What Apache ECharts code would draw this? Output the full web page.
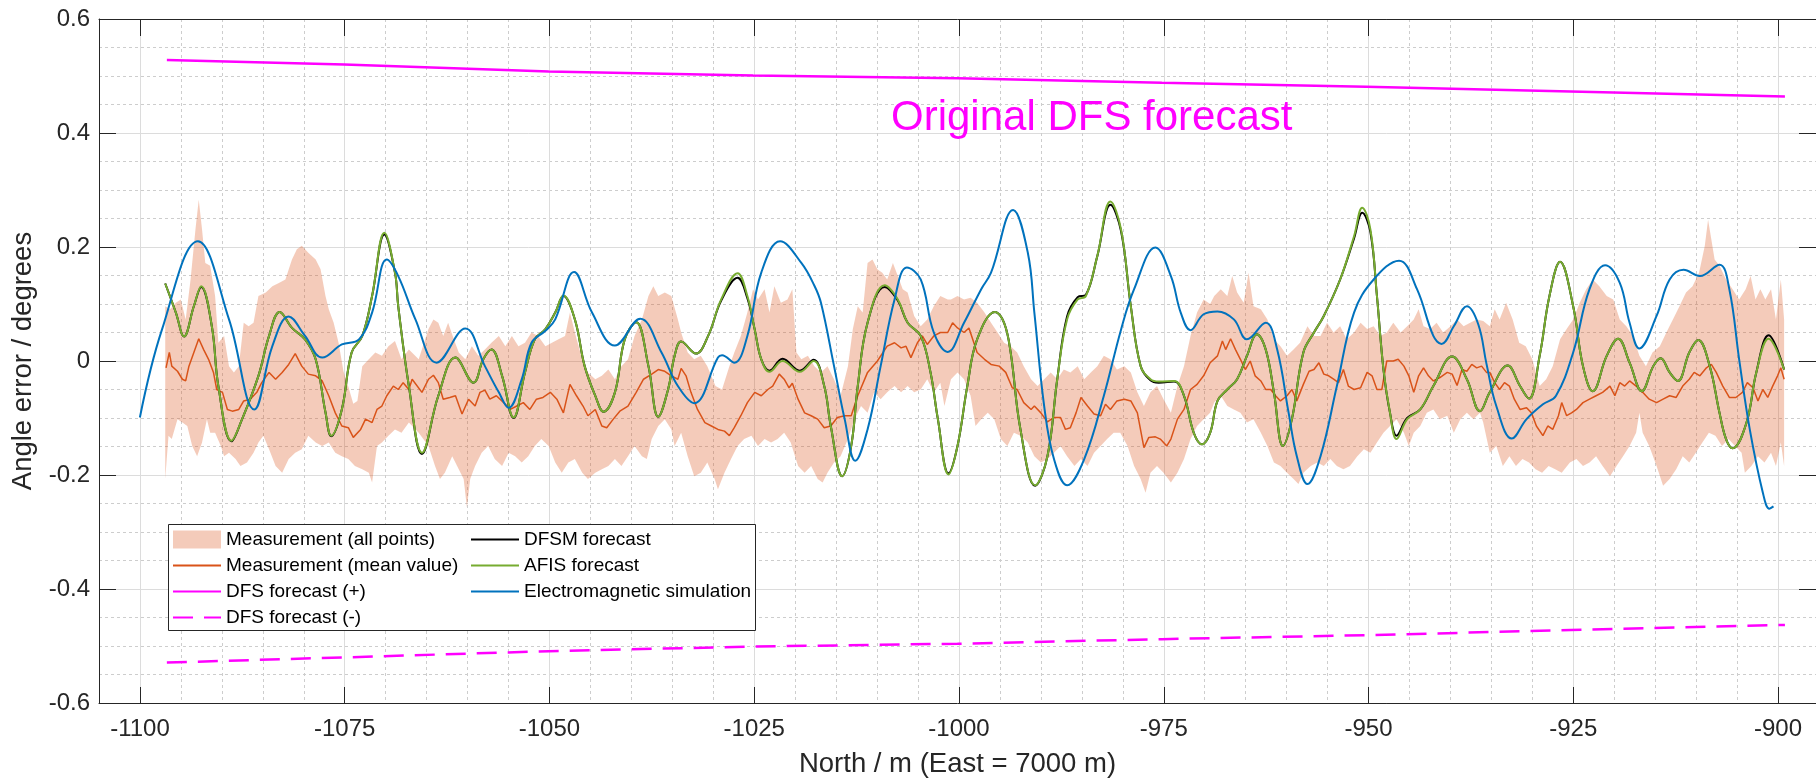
<!DOCTYPE html>
<html><head><meta charset="utf-8">
<script src="https://cdn.jsdelivr.net/npm/echarts@6/dist/echarts.min.js"></script>
<style>html,body{margin:0;padding:0;background:#fff}#c{width:1816px;height:783px}</style>
</head><body><div id="c"></div>
<script>
// ---------- tick labels ----------
const xTicks = [-1100,-1075,-1050,-1025,-1000,-975,-950,-925,-900];
const xTickLabels = ['-1100','-1075','-1050','-1025','-1000','-975','-950','-925','-900'];
const yTicks = [-0.6,-0.4,-0.2,0,0.2,0.4,0.6];
const yTickLabels = ['-0.6','-0.4','-0.2','0','0.2','0.4','0.6'];

// ---------- DFS forecast (+ / -) ----------
const dfsX = [-1096.7,-1075,-1050,-1025,-1000,-975,-950,-925,-898.8];
const dfsPlus = [0.528,0.520,0.508,0.501,0.496,0.488,0.481,0.473,0.464];
const dfsMinus = [-0.529,-0.520,-0.509,-0.501,-0.496,-0.488,-0.481,-0.472,-0.463];

// ---------- Electromagnetic simulation ----------
const emX = [-1100,-1097.3,-1092.9,-1089.1,-1086.0,-1083.8,-1081.8,-1079.8,-1077.7,-1075.3,-1073.2,-1071.6,-1069.8,-1068.4,-1066.3,-1063.7,-1060.2,-1057.8,-1056.1,-1054.9,-1053.3,-1052.1,-1050.4,-1049.2,-1046.9,-1044.7,-1041.9,-1038.8,-1036.2,-1034.2,-1032.2,-1029.3,-1028.8,-1027.3,-1025.7,-1024.0,-1021.7,-1019.1,-1017.5,-1016.7,-1015.1,-1013.8,-1012.5,-1011.0,-1009.4,-1007.7,-1006.2,-1004.5,-1002.9,-1001.2,-999.2,-997.1,-995.9,-993.2,-991.4,-990.6,-989.4,-988.2,-986.6,-984.5,-982.1,-980.0,-978.4,-975.8,-973.9,-972.7,-971.5,-969.9,-968.2,-966.2,-964.6,-962.3,-960.9,-959.5,-958.5,-957.2,-955.6,-953.6,-951.5,-949.1,-946.0,-943.8,-941.8,-940.8,-939.3,-937.7,-936.3,-935.3,-934.1,-932.2,-930.4,-928.4,-926.8,-924.7,-922.7,-920.8,-919.0,-917.8,-916.6,-914.5,-912.9,-911.2,-909.2,-906.8,-905.6,-904.4,-903.1,-901.5,-900.7,-900.2];
const emY = [-0.099,0.055,0.210,0.073,-0.085,0.026,0.078,0.044,0.006,0.029,0.038,0.085,0.178,0.149,0.073,-0.003,0.057,-0.009,-0.055,-0.082,-0.032,0.032,0.053,0.073,0.156,0.085,0.027,0.074,0.015,-0.044,-0.074,0.006,0.010,-0.003,0.044,0.155,0.210,0.172,0.132,0.102,-0.009,-0.102,-0.175,-0.120,-0.009,0.108,0.164,0.143,0.050,0.016,0.067,0.126,0.155,0.265,0.190,0.085,-0.079,-0.172,-0.218,-0.172,-0.061,0.055,0.126,0.199,0.149,0.085,0.054,0.082,0.087,0.073,0.038,0.067,0.020,-0.091,-0.167,-0.216,-0.167,-0.044,0.085,0.143,0.176,0.126,0.044,0.030,0.061,0.096,0.064,-0.005,-0.079,-0.136,-0.102,-0.076,-0.061,0.015,0.126,0.168,0.137,0.067,0.022,0.079,0.143,0.160,0.149,0.169,0.126,0.003,-0.120,-0.231,-0.259,-0.255];

// ---------- AFIS forecast ----------
const afisX = [-1096.9,-1095.6,-1094.6,-1093.4,-1092.5,-1091.2,-1090.4,-1088.8,-1087.5,-1085.5,-1084.2,-1082.9,-1081.4,-1079.8,-1078.5,-1077.3,-1076.6,-1075.3,-1074.1,-1072.8,-1071.6,-1070.1,-1068.8,-1068.4,-1067.1,-1065.5,-1063.5,-1061.4,-1059.2,-1058.0,-1057.0,-1055.7,-1054.3,-1052.9,-1051.7,-1050.4,-1049.2,-1048.2,-1046.8,-1045.6,-1044.3,-1043.3,-1041.9,-1040.7,-1039.3,-1037.8,-1036.6,-1035.4,-1034.6,-1033.8,-1032.0,-1030.5,-1028.9,-1026.9,-1025.7,-1024.8,-1024.0,-1023.0,-1021.4,-1019.3,-1017.6,-1016.3,-1015.5,-1014.1,-1013.0,-1012.2,-1011.0,-1008.9,-1007.3,-1006.1,-1004.5,-1003.3,-1002.4,-1001.1,-1000.0,-998.8,-997.6,-995.4,-994.3,-993.5,-992.3,-990.5,-989.0,-987.8,-986.6,-985.3,-984.3,-982.9,-981.3,-980.0,-978.8,-977.6,-976.4,-975.4,-973.5,-972.3,-971.1,-970.1,-969.1,-968.2,-967.0,-965.8,-964.6,-963.4,-962.3,-961.3,-960.2,-959.1,-957.7,-956.4,-955.2,-953.2,-951.5,-950.5,-949.5,-948.7,-947.9,-947.1,-946.3,-945.0,-943.4,-941.8,-939.5,-937.7,-936.1,-934.9,-932.7,-931.2,-930.1,-928.8,-927.6,-926.3,-924.7,-923.5,-922.3,-920.6,-919.2,-917.8,-916.3,-914.9,-914.0,-912.9,-911.9,-910.5,-909.4,-908.0,-906.8,-906.0,-905.2,-903.5,-902.3,-900.8,-898.9];
const afisY = [0.136,0.085,0.043,0.096,0.131,0.061,-0.044,-0.140,-0.102,-0.026,0.044,0.086,0.058,0.038,0.003,-0.090,-0.131,-0.085,0.015,0.044,0.114,0.225,0.155,0.096,-0.044,-0.161,-0.061,0.006,-0.038,0.003,0.020,-0.026,-0.099,-0.020,0.038,0.056,0.085,0.115,0.073,-0.009,-0.061,-0.089,-0.055,0.038,0.068,-0.009,-0.098,-0.050,0.009,0.034,0.013,0.044,0.108,0.154,0.114,0.055,0.003,-0.019,0.000,-0.019,0.000,-0.044,-0.114,-0.202,-0.149,-0.044,0.067,0.133,0.108,0.067,0.044,-0.020,-0.102,-0.199,-0.149,-0.044,0.038,0.086,0.067,0.015,-0.120,-0.218,-0.167,-0.032,0.073,0.108,0.114,0.184,0.280,0.231,0.096,-0.009,-0.032,-0.036,-0.035,-0.061,-0.126,-0.146,-0.126,-0.070,-0.050,-0.032,0.009,0.047,0.020,-0.055,-0.149,-0.102,0.015,0.050,0.079,0.143,0.219,0.269,0.231,0.114,-0.015,-0.091,-0.137,-0.102,-0.085,-0.044,0.008,-0.032,-0.088,-0.055,-0.008,-0.044,-0.066,0.009,0.114,0.174,0.096,-0.009,-0.053,0.009,0.039,-0.003,-0.053,-0.009,0.005,-0.020,-0.035,0.015,0.037,-0.009,-0.091,-0.137,-0.153,-0.108,-0.020,0.039,-0.015];

// ---------- DFSM forecast ----------
const dfsmX = [-1096.9,-1095.6,-1094.6,-1093.4,-1092.5,-1091.2,-1090.4,-1088.8,-1087.5,-1085.5,-1084.2,-1082.9,-1081.4,-1079.8,-1078.5,-1077.3,-1076.6,-1075.3,-1074.1,-1072.8,-1071.6,-1070.1,-1068.8,-1068.4,-1067.1,-1065.5,-1063.5,-1061.4,-1059.2,-1058.0,-1057.0,-1055.7,-1054.3,-1052.9,-1051.7,-1050.4,-1049.2,-1048.2,-1046.8,-1045.6,-1044.3,-1043.3,-1041.9,-1040.7,-1039.3,-1037.8,-1036.6,-1035.4,-1034.6,-1033.8,-1032.0,-1030.5,-1028.9,-1026.9,-1025.7,-1024.8,-1024.0,-1023.0,-1021.4,-1019.3,-1017.6,-1016.3,-1015.5,-1014.1,-1013.0,-1012.2,-1011.0,-1008.9,-1007.3,-1006.1,-1004.5,-1003.3,-1002.4,-1001.1,-1000.0,-998.8,-997.6,-995.4,-994.3,-993.5,-992.3,-990.5,-989.0,-987.8,-986.6,-985.3,-984.3,-982.9,-981.3,-980.0,-978.8,-977.6,-976.4,-975.4,-973.5,-972.3,-971.1,-970.1,-969.1,-968.2,-967.0,-965.8,-964.6,-963.4,-962.3,-961.3,-960.2,-959.1,-957.7,-956.4,-955.2,-953.2,-951.5,-950.5,-949.5,-948.7,-947.9,-947.1,-946.3,-945.0,-943.4,-941.8,-939.5,-937.7,-936.1,-934.9,-932.7,-931.2,-930.1,-928.8,-927.6,-926.3,-924.7,-923.5,-922.3,-920.6,-919.2,-917.8,-916.3,-914.9,-914.0,-912.9,-911.9,-910.5,-909.4,-908.0,-906.8,-906.0,-905.2,-903.5,-902.3,-900.8,-898.9];
const dfsmY = [0.136,0.085,0.043,0.096,0.130,0.061,-0.044,-0.141,-0.102,-0.026,0.044,0.086,0.058,0.038,0.003,-0.090,-0.132,-0.085,0.015,0.044,0.114,0.222,0.155,0.096,-0.044,-0.163,-0.061,0.006,-0.038,0.003,0.020,-0.026,-0.100,-0.020,0.038,0.056,0.085,0.114,0.073,-0.009,-0.061,-0.089,-0.055,0.038,0.068,-0.009,-0.098,-0.050,0.009,0.034,0.013,0.044,0.106,0.146,0.110,0.055,0.003,-0.017,0.004,-0.017,0.002,-0.044,-0.114,-0.202,-0.149,-0.044,0.067,0.130,0.106,0.067,0.044,-0.020,-0.102,-0.197,-0.149,-0.044,0.038,0.086,0.067,0.015,-0.120,-0.219,-0.167,-0.032,0.078,0.112,0.116,0.184,0.274,0.228,0.096,-0.009,-0.034,-0.038,-0.036,-0.061,-0.126,-0.146,-0.126,-0.070,-0.050,-0.032,0.009,0.047,0.020,-0.055,-0.149,-0.102,0.015,0.050,0.079,0.143,0.215,0.260,0.226,0.114,-0.015,-0.091,-0.131,-0.100,-0.085,-0.044,0.008,-0.032,-0.088,-0.055,-0.008,-0.044,-0.066,0.009,0.114,0.174,0.096,-0.009,-0.053,0.009,0.039,-0.003,-0.053,-0.009,0.005,-0.020,-0.035,0.015,0.037,-0.009,-0.091,-0.137,-0.153,-0.108,-0.020,0.045,-0.015];

// ---------- Measurement (mean value) ----------
const meanX = [-1096.8,-1096.4,-1096.1,-1095.4,-1094.8,-1094.4,-1094.0,-1093.4,-1092.8,-1092.2,-1091.6,-1091.0,-1090.6,-1089.9,-1089.3,-1088.7,-1087.9,-1087.3,-1086.5,-1085.7,-1085.1,-1084.2,-1083.4,-1082.6,-1081.8,-1081.0,-1080.2,-1079.4,-1078.5,-1077.7,-1076.9,-1076.1,-1075.3,-1074.5,-1073.9,-1073.0,-1072.4,-1071.6,-1071.0,-1070.4,-1069.8,-1069.0,-1068.4,-1067.8,-1067.1,-1066.7,-1065.5,-1064.7,-1064.1,-1063.5,-1062.9,-1062.1,-1061.4,-1060.6,-1059.8,-1059.0,-1058.4,-1057.8,-1057.2,-1056.4,-1055.5,-1054.7,-1053.9,-1053.1,-1052.3,-1051.5,-1050.7,-1049.8,-1049.0,-1048.2,-1047.4,-1046.6,-1045.8,-1045.2,-1044.3,-1043.5,-1042.9,-1042.1,-1041.3,-1040.3,-1039.3,-1038.4,-1037.4,-1036.6,-1035.8,-1035.0,-1034.2,-1033.8,-1033.2,-1032.6,-1031.8,-1030.9,-1030.1,-1029.3,-1028.5,-1027.9,-1027.3,-1026.5,-1025.7,-1024.8,-1024.0,-1023.2,-1022.6,-1021.8,-1021.2,-1020.6,-1020.2,-1019.5,-1018.7,-1017.9,-1017.1,-1016.3,-1015.5,-1014.7,-1013.8,-1013.0,-1012.2,-1011.0,-1009.8,-1008.6,-1007.7,-1006.9,-1006.3,-1005.7,-1004.9,-1004.3,-1003.7,-1002.9,-1002.1,-1001.2,-1000.6,-1000.0,-999.2,-998.6,-998.0,-997.6,-996.7,-995.9,-994.9,-994.1,-993.3,-992.7,-991.9,-991.0,-990.6,-989.8,-989.0,-988.2,-987.4,-986.8,-986.2,-985.5,-984.9,-984.1,-983.3,-982.5,-981.9,-981.3,-980.5,-979.6,-978.8,-978.0,-977.2,-976.6,-975.8,-975.2,-974.4,-973.9,-973.1,-972.3,-971.5,-970.7,-969.9,-969.1,-968.2,-967.6,-967.2,-966.6,-966.0,-965.4,-964.8,-964.2,-963.6,-962.9,-962.3,-961.7,-961.1,-960.5,-959.7,-959.1,-958.5,-957.7,-957.0,-956.4,-955.8,-955.2,-954.6,-954.0,-953.4,-952.8,-952.2,-951.5,-950.7,-949.9,-949.3,-948.7,-948.1,-947.5,-946.7,-946.1,-945.4,-944.8,-944.2,-943.6,-943.0,-942.4,-941.8,-941.0,-940.1,-939.5,-938.9,-938.3,-937.7,-937.1,-936.5,-935.9,-935.3,-934.9,-934.3,-933.7,-933.1,-932.5,-931.9,-931.2,-930.4,-929.8,-929.2,-928.4,-927.8,-927.2,-926.5,-926.1,-925.5,-924.9,-924.3,-923.5,-922.7,-921.9,-921.1,-920.2,-919.6,-919.0,-918.4,-917.8,-917.0,-916.2,-915.4,-914.5,-913.7,-912.9,-912.1,-911.3,-910.5,-909.9,-909.2,-908.4,-907.8,-907.2,-906.4,-905.6,-904.8,-904.0,-903.4,-902.7,-902.1,-901.5,-900.9,-900.3,-899.7,-899.3,-898.9];
const meanY = [-0.012,0.015,-0.009,-0.018,-0.032,-0.035,-0.009,0.015,0.039,0.020,0.003,-0.020,-0.050,-0.055,-0.085,-0.088,-0.085,-0.070,-0.067,-0.055,-0.038,-0.020,-0.032,-0.020,-0.006,0.013,-0.009,-0.023,-0.026,-0.035,-0.061,-0.091,-0.114,-0.117,-0.134,-0.120,-0.102,-0.108,-0.085,-0.079,-0.061,-0.044,-0.050,-0.038,-0.050,-0.032,-0.055,-0.032,-0.025,-0.038,-0.067,-0.064,-0.061,-0.093,-0.067,-0.079,-0.055,-0.051,-0.067,-0.061,-0.073,-0.085,-0.079,-0.073,-0.085,-0.067,-0.064,-0.055,-0.067,-0.091,-0.041,-0.061,-0.079,-0.096,-0.085,-0.114,-0.117,-0.102,-0.088,-0.079,-0.055,-0.032,-0.023,-0.015,-0.018,-0.026,-0.032,-0.013,-0.026,-0.055,-0.085,-0.108,-0.114,-0.120,-0.123,-0.131,-0.117,-0.096,-0.073,-0.055,-0.061,-0.050,-0.044,-0.023,-0.032,-0.047,-0.039,-0.067,-0.091,-0.096,-0.102,-0.117,-0.114,-0.099,-0.096,-0.096,-0.061,-0.020,0.000,0.026,0.032,0.023,0.026,0.006,0.032,0.044,0.029,0.044,0.050,0.050,0.067,0.058,0.050,0.058,0.032,0.015,0.003,-0.006,-0.009,-0.020,-0.047,-0.050,-0.073,-0.085,-0.079,-0.091,-0.107,-0.099,-0.099,-0.120,-0.117,-0.091,-0.064,-0.079,-0.093,-0.096,-0.076,-0.085,-0.070,-0.067,-0.070,-0.091,-0.152,-0.134,-0.133,-0.137,-0.149,-0.137,-0.102,-0.085,-0.050,-0.041,-0.026,-0.003,0.009,0.035,0.020,0.039,0.020,0.003,-0.015,0.000,-0.026,-0.035,-0.050,-0.050,-0.061,-0.070,-0.061,-0.050,-0.070,-0.041,-0.018,-0.015,-0.003,-0.023,-0.026,-0.032,-0.038,-0.015,-0.044,-0.050,-0.047,-0.020,-0.026,-0.050,-0.050,0.000,0.000,0.003,-0.009,-0.026,-0.055,-0.026,-0.012,-0.026,-0.035,-0.029,-0.020,-0.023,-0.043,-0.015,-0.018,-0.006,-0.012,-0.009,-0.020,-0.020,-0.038,-0.050,-0.038,-0.044,-0.067,-0.085,-0.082,-0.091,-0.114,-0.131,-0.114,-0.120,-0.096,-0.073,-0.096,-0.091,-0.085,-0.073,-0.067,-0.061,-0.055,-0.044,-0.061,-0.038,-0.044,-0.035,-0.044,-0.055,-0.067,-0.073,-0.067,-0.061,-0.064,-0.044,-0.032,-0.020,-0.026,-0.012,-0.006,-0.020,-0.044,-0.064,-0.064,-0.055,-0.038,-0.047,-0.070,-0.050,-0.064,-0.044,-0.026,-0.012,-0.032];

// ---------- Measurement (all points): upper / lower envelope ----------
const bandUpX = [-1096.9,-1096.3,-1095.6,-1095.0,-1094.4,-1093.8,-1093.2,-1092.8,-1092.4,-1092.0,-1091.4,-1090.8,-1090.4,-1089.7,-1089.1,-1088.5,-1087.9,-1087.3,-1086.7,-1086.1,-1085.5,-1084.6,-1083.8,-1083.0,-1082.2,-1081.4,-1080.8,-1080.2,-1079.4,-1078.5,-1077.9,-1077.3,-1076.9,-1076.3,-1075.7,-1075.1,-1074.5,-1073.9,-1073.4,-1072.8,-1072.0,-1071.2,-1070.4,-1069.6,-1068.8,-1068.0,-1067.1,-1065.9,-1064.7,-1064.1,-1063.5,-1062.9,-1062.3,-1061.6,-1061.0,-1060.2,-1059.4,-1058.6,-1057.8,-1057.0,-1056.1,-1055.3,-1054.5,-1053.7,-1052.9,-1052.1,-1051.3,-1050.4,-1049.6,-1048.8,-1048.0,-1047.4,-1046.8,-1045.9,-1045.2,-1044.3,-1043.5,-1042.7,-1041.9,-1041.1,-1040.3,-1039.5,-1038.6,-1037.8,-1037.2,-1036.6,-1035.8,-1035.0,-1034.2,-1033.8,-1033.0,-1032.2,-1031.4,-1030.6,-1029.6,-1028.8,-1027.9,-1027.3,-1026.5,-1025.7,-1025.0,-1024.4,-1023.6,-1023.0,-1022.4,-1021.6,-1020.8,-1020.2,-1019.7,-1019.1,-1018.3,-1017.5,-1016.7,-1015.9,-1015.1,-1014.3,-1013.4,-1012.8,-1012.2,-1011.6,-1011.0,-1010.4,-1009.8,-1009.2,-1008.6,-1007.9,-1007.3,-1006.7,-1006.1,-1005.3,-1004.5,-1003.7,-1002.9,-1002.1,-1001.2,-1000.8,-1000.0,-999.2,-998.4,-997.6,-996.7,-995.9,-995.1,-994.3,-993.5,-992.7,-991.9,-991.0,-990.2,-989.4,-988.6,-987.8,-987.0,-986.2,-985.3,-984.5,-983.7,-982.9,-982.1,-981.3,-980.5,-979.6,-978.8,-978.0,-977.2,-976.4,-975.6,-974.8,-973.9,-973.1,-972.3,-971.5,-970.7,-969.9,-969.1,-968.6,-967.8,-967.0,-966.4,-965.8,-965.0,-964.4,-963.8,-962.9,-962.1,-961.3,-960.5,-959.7,-958.9,-958.1,-957.2,-956.4,-955.6,-954.8,-954.0,-953.2,-952.4,-951.5,-950.7,-949.9,-949.1,-948.3,-947.5,-946.7,-945.8,-945.0,-944.2,-943.6,-943.0,-942.2,-941.4,-940.6,-939.7,-938.9,-938.1,-937.3,-936.5,-935.7,-934.9,-934.3,-933.7,-932.9,-932.1,-931.3,-930.5,-929.7,-928.8,-928.0,-927.2,-926.3,-925.5,-924.7,-923.9,-923.1,-922.3,-921.5,-920.6,-919.8,-919.0,-918.2,-917.4,-916.6,-915.8,-915.0,-914.1,-913.3,-912.5,-911.7,-910.9,-910.1,-909.3,-908.6,-908.2,-907.8,-907.4,-906.8,-906.0,-905.2,-904.4,-903.6,-903.0,-902.4,-901.8,-901.2,-900.5,-899.9,-899.3,-898.9];
const bandUpY = [0.096,0.091,0.102,0.108,0.073,0.143,0.231,0.283,0.231,0.172,0.167,0.114,0.032,0.044,-0.009,-0.020,-0.009,0.067,0.061,0.067,0.114,0.120,0.131,0.137,0.143,0.178,0.196,0.202,0.190,0.178,0.161,0.114,0.091,0.067,0.032,-0.018,-0.045,-0.075,-0.070,-0.009,0.003,0.015,0.009,0.026,0.035,0.003,0.020,0.003,0.056,0.073,0.067,0.044,0.067,0.038,0.015,0.003,0.026,0.009,0.020,0.032,0.044,0.026,0.044,0.026,0.032,0.050,0.044,0.026,0.032,0.038,0.044,0.085,0.050,0.003,-0.020,-0.032,-0.026,-0.015,-0.032,-0.009,0.003,0.044,0.073,0.114,0.131,0.114,0.120,0.114,0.073,0.050,0.015,0.003,0.009,-0.009,-0.044,-0.050,-0.009,0.015,0.044,0.085,0.126,0.108,0.126,0.085,0.131,0.102,0.108,0.126,0.015,0.003,0.009,-0.009,-0.020,-0.009,-0.032,-0.061,-0.009,0.056,0.096,0.085,0.172,0.178,0.161,0.155,0.143,0.172,0.149,0.126,0.120,0.079,0.061,0.073,0.096,0.114,0.108,0.108,0.114,0.108,0.111,0.102,0.085,0.067,0.050,0.032,0.026,0.015,-0.009,-0.032,-0.044,-0.032,-0.020,-0.032,-0.015,-0.020,-0.009,-0.032,-0.020,-0.009,0.009,0.003,-0.015,-0.009,-0.020,-0.055,-0.079,-0.055,-0.044,-0.067,-0.091,-0.044,-0.009,0.044,0.085,0.108,0.100,0.114,0.126,0.114,0.149,0.120,0.102,0.155,0.096,0.091,0.073,0.038,0.026,0.009,0.020,0.032,0.061,0.044,0.044,0.067,0.050,0.061,0.038,0.050,0.067,0.056,0.061,0.044,0.050,0.067,0.050,0.061,0.073,0.091,0.061,0.056,0.067,0.050,0.061,0.073,0.061,0.067,0.073,0.070,0.061,0.091,0.073,0.102,0.073,0.032,0.026,0.003,-0.044,-0.032,-0.009,0.038,0.056,0.073,0.102,0.126,0.143,0.131,0.114,0.108,0.073,0.061,0.044,0.009,-0.009,0.015,0.026,0.050,0.073,0.096,0.120,0.131,0.155,0.202,0.248,0.213,0.178,0.167,0.143,0.126,0.108,0.126,0.149,0.108,0.126,0.108,0.126,0.073,0.143,0.073];
const bandLoX = [-1096.9,-1096.5,-1096.1,-1095.4,-1094.8,-1094.2,-1093.6,-1093.0,-1092.4,-1091.8,-1091.4,-1090.8,-1090.1,-1089.7,-1089.1,-1088.3,-1087.7,-1086.9,-1086.1,-1085.5,-1084.9,-1084.2,-1083.4,-1082.6,-1081.8,-1081.0,-1080.2,-1079.4,-1078.5,-1077.7,-1076.9,-1076.1,-1075.3,-1074.5,-1073.7,-1072.8,-1072.0,-1071.6,-1071.0,-1070.4,-1069.6,-1068.8,-1068.0,-1067.1,-1065.9,-1064.7,-1063.9,-1063.3,-1062.7,-1061.8,-1061.0,-1060.4,-1060.0,-1059.6,-1059.0,-1058.2,-1057.4,-1056.6,-1055.7,-1054.9,-1054.1,-1053.3,-1052.5,-1051.7,-1050.9,-1050.0,-1049.2,-1048.4,-1047.6,-1046.8,-1045.9,-1045.2,-1044.3,-1043.5,-1042.7,-1041.9,-1041.1,-1040.3,-1039.5,-1038.6,-1038.0,-1037.4,-1036.6,-1035.8,-1035.0,-1034.6,-1033.8,-1033.0,-1032.2,-1031.4,-1030.6,-1029.7,-1029.3,-1028.5,-1027.7,-1026.9,-1026.1,-1025.2,-1024.4,-1023.6,-1022.8,-1022.0,-1021.2,-1020.4,-1019.5,-1018.7,-1017.9,-1017.1,-1016.5,-1015.9,-1015.1,-1014.3,-1013.4,-1012.6,-1011.8,-1011.0,-1010.2,-1009.4,-1008.6,-1007.7,-1006.9,-1006.1,-1005.3,-1004.5,-1003.7,-1002.9,-1002.1,-1001.6,-1000.8,-1000.0,-999.2,-998.4,-997.8,-997.1,-996.3,-995.5,-994.7,-993.9,-993.1,-992.3,-991.4,-990.6,-989.8,-989.0,-988.2,-987.4,-986.6,-985.7,-984.9,-984.1,-983.3,-982.5,-981.7,-980.9,-980.1,-979.2,-978.4,-977.6,-977.0,-976.4,-975.6,-974.8,-973.9,-973.1,-972.3,-971.5,-970.7,-969.9,-969.1,-968.6,-967.8,-967.0,-966.2,-965.4,-964.6,-963.8,-962.9,-962.1,-961.3,-960.5,-959.7,-958.9,-958.3,-957.7,-956.8,-956.0,-955.2,-954.4,-953.6,-952.8,-952.0,-951.1,-950.3,-949.5,-948.7,-947.9,-947.1,-946.3,-945.4,-944.8,-944.2,-943.4,-942.6,-941.8,-941.0,-940.1,-939.3,-938.5,-937.7,-936.9,-936.1,-935.7,-934.9,-934.1,-933.3,-932.5,-931.7,-930.9,-930.1,-929.3,-928.5,-927.7,-926.9,-926.1,-925.1,-924.3,-923.5,-922.7,-921.9,-921.1,-920.2,-919.4,-918.6,-917.8,-917.0,-916.6,-916.2,-915.4,-914.5,-913.7,-912.9,-912.1,-911.3,-910.5,-909.7,-908.9,-908.1,-907.3,-906.5,-905.7,-904.9,-904.1,-903.7,-902.9,-902.1,-901.3,-900.5,-899.9,-899.3,-898.9];
const bandLoY = [-0.207,-0.131,-0.137,-0.102,-0.108,-0.114,-0.149,-0.167,-0.143,-0.102,-0.126,-0.126,-0.149,-0.167,-0.161,-0.172,-0.184,-0.178,-0.161,-0.143,-0.131,-0.155,-0.184,-0.196,-0.172,-0.161,-0.155,-0.131,-0.143,-0.149,-0.143,-0.161,-0.167,-0.172,-0.184,-0.190,-0.196,-0.213,-0.149,-0.143,-0.131,-0.120,-0.126,-0.108,-0.126,-0.149,-0.184,-0.207,-0.196,-0.167,-0.190,-0.207,-0.257,-0.207,-0.184,-0.161,-0.149,-0.172,-0.184,-0.161,-0.167,-0.178,-0.167,-0.149,-0.137,-0.149,-0.178,-0.196,-0.178,-0.172,-0.196,-0.207,-0.196,-0.190,-0.184,-0.172,-0.184,-0.167,-0.149,-0.167,-0.172,-0.137,-0.114,-0.102,-0.120,-0.149,-0.126,-0.167,-0.202,-0.196,-0.178,-0.207,-0.225,-0.196,-0.172,-0.149,-0.137,-0.131,-0.149,-0.137,-0.143,-0.137,-0.126,-0.143,-0.184,-0.196,-0.184,-0.207,-0.213,-0.196,-0.178,-0.167,-0.137,-0.102,-0.079,-0.091,-0.055,-0.067,-0.055,-0.044,-0.055,-0.044,-0.055,-0.050,-0.032,-0.055,-0.038,-0.079,-0.032,-0.020,-0.032,-0.061,-0.114,-0.102,-0.091,-0.102,-0.137,-0.149,-0.126,-0.131,-0.143,-0.167,-0.178,-0.172,-0.161,-0.149,-0.167,-0.184,-0.172,-0.184,-0.161,-0.149,-0.137,-0.126,-0.126,-0.149,-0.184,-0.207,-0.231,-0.196,-0.184,-0.196,-0.213,-0.196,-0.172,-0.137,-0.114,-0.102,-0.091,-0.073,-0.061,-0.079,-0.085,-0.091,-0.108,-0.102,-0.126,-0.149,-0.178,-0.184,-0.196,-0.207,-0.216,-0.196,-0.184,-0.178,-0.184,-0.172,-0.184,-0.190,-0.184,-0.167,-0.155,-0.161,-0.143,-0.126,-0.114,-0.102,-0.126,-0.149,-0.126,-0.114,-0.091,-0.085,-0.102,-0.096,-0.126,-0.102,-0.091,-0.102,-0.091,-0.108,-0.161,-0.149,-0.184,-0.167,-0.184,-0.172,-0.178,-0.190,-0.196,-0.184,-0.190,-0.196,-0.178,-0.172,-0.184,-0.178,-0.167,-0.184,-0.202,-0.184,-0.167,-0.149,-0.126,-0.091,-0.126,-0.149,-0.184,-0.219,-0.207,-0.190,-0.167,-0.178,-0.161,-0.143,-0.126,-0.131,-0.149,-0.137,-0.149,-0.161,-0.196,-0.184,-0.167,-0.178,-0.161,-0.184,-0.143,-0.184];

// ---------- layout / style ----------
const FONT = '"Liberation Sans", Arial, Helvetica, sans-serif';
const AX = '#262626';
const GL = 99, GT = 19, GW = 1720, GH = 685;       // main plot box
const XMIN = -1105, XMAX = -895;
const PXM = GW / (XMAX - XMIN);                    // px per metre
const TGL = GL + (xTicks[0] - XMIN) * PXM;          // tick grid (ticks from -1100 to -900)
const TGW = (xTicks[xTicks.length - 1] - xTicks[0]) * PXM;

const pairs = (xs, ys) => xs.map((x, i) => [x, ys[i]]);
const lineSeries = (name, xs, ys, color, width, extra) => Object.assign({
  type: 'line', name, data: pairs(xs, ys), xAxisIndex: 0, yAxisIndex: 0,
  symbol: 'none', showSymbol: false, clip: true,
  lineStyle: { color, width }, itemStyle: { color }, emphasis: { disabled: true }
}, extra || {});
const lineLegend = name => ({ name, itemStyle: { opacity: 0 } });

const chart = echarts.init(document.getElementById('c'), null, { renderer: 'canvas' });
const bandColor = 'rgba(217,83,25,0.3)';

const option = {
  animation: false,
  backgroundColor: '#ffffff',
  textStyle: { fontFamily: FONT },
  grid: [
    { left: GL, top: GT, width: GW, height: GH, containLabel: false },
    { left: TGL, top: GT, width: TGW, height: GH, containLabel: false }
  ],
  xAxis: [
    { gridIndex: 0, type: 'value', position: 'bottom', min: XMIN, max: XMAX,
      axisLine: { show: true, onZero: false, lineStyle: { color: AX, width: 1 } },
      axisTick: { show: false }, axisLabel: { show: false }, splitLine: { show: false },
      name: 'North / m (East = 7000 m)', nameLocation: 'middle', nameGap: 47,
      nameTextStyle: { fontSize: 27.5, color: AX, fontFamily: FONT } },
    { gridIndex: 0, type: 'value', position: 'top', min: XMIN, max: XMAX,
      axisLine: { show: true, onZero: false, lineStyle: { color: AX, width: 1 } },
      axisTick: { show: false }, axisLabel: { show: false }, splitLine: { show: false } },
    { gridIndex: 1, type: 'value', position: 'bottom', min: xTicks[0], max: xTicks[xTicks.length - 1], interval: 25,
      axisLine: { show: false, onZero: false },
      axisTick: { show: true, inside: true, length: 17, lineStyle: { color: AX, width: 1 } },
      axisLabel: { show: true, margin: 13, fontSize: 24, color: AX, fontFamily: FONT,
        formatter: v => xTickLabels[xTicks.indexOf(Math.round(v))] || '' },
      splitLine: { show: true, lineStyle: { color: '#dcdcdc', width: 1 } },
      minorTick: { show: false, splitNumber: 5 },
      minorSplitLine: { show: true, lineStyle: { color: '#cdcdcd', width: 1, type: [3, 3] } } },
    { gridIndex: 1, type: 'value', position: 'top', min: xTicks[0], max: xTicks[xTicks.length - 1], interval: 25,
      axisLine: { show: false, onZero: false },
      axisTick: { show: true, inside: true, length: 17, lineStyle: { color: AX, width: 1 } },
      axisLabel: { show: false }, splitLine: { show: false } }
  ],
  yAxis: [
    { gridIndex: 0, type: 'value', position: 'left', min: yTicks[0], max: yTicks[yTicks.length - 1], interval: 0.2,
      axisLine: { show: true, onZero: false, lineStyle: { color: AX, width: 1 } },
      axisTick: { show: true, inside: true, length: 17, lineStyle: { color: AX, width: 1 } },
      axisLabel: { show: true, margin: 9, fontSize: 24, color: AX, fontFamily: FONT,
        formatter: v => yTickLabels[Math.round((v - yTicks[0]) / 0.2)] },
      splitLine: { show: true, lineStyle: { color: '#dcdcdc', width: 1 } },
      minorTick: { show: false, splitNumber: 4 },
      minorSplitLine: { show: true, lineStyle: { color: '#cdcdcd', width: 1, type: [3, 3] } },
      name: 'Angle error / degrees', nameLocation: 'middle', nameGap: 58, nameRotate: 90,
      nameTextStyle: { fontSize: 27.5, color: AX, fontFamily: FONT } },
    { gridIndex: 0, type: 'value', position: 'right', min: yTicks[0], max: yTicks[yTicks.length - 1], interval: 0.2,
      axisLine: { show: true, onZero: false, lineStyle: { color: AX, width: 1 } },
      axisTick: { show: true, inside: true, length: 17, lineStyle: { color: AX, width: 1 } },
      axisLabel: { show: false }, splitLine: { show: false } },
    { gridIndex: 1, type: 'value', show: false, min: yTicks[0], max: yTicks[yTicks.length - 1] }
  ],
  legend: [
    { data: [{ name: 'Measurement (all points)', icon: 'rect' }, lineLegend('Measurement (mean value)'), lineLegend('DFS forecast (+)'), lineLegend('DFS forecast (-)')],
      orient: 'vertical', left: 172, top: 530, padding: 0, itemWidth: 48, itemHeight: 18, itemGap: 7,
      selectedMode: false, z: 21, textStyle: { fontSize: 19, color: '#000', fontFamily: FONT } },
    { data: [lineLegend('DFSM forecast'), lineLegend('AFIS forecast'), lineLegend('Electromagnetic simulation')],
      orient: 'vertical', left: 470, top: 530, padding: 0, itemWidth: 48, itemHeight: 18, itemGap: 7,
      selectedMode: false, z: 21, textStyle: { fontSize: 19, color: '#000', fontFamily: FONT } }
  ],
  graphic: [
    { type: 'rect', left: 168, top: 524, z: 20, silent: true,
      shape: { width: 587, height: 106 }, style: { fill: '#ffffff', stroke: AX, lineWidth: 1 } },
    { type: 'text', left: 891, top: 97, z: 20, silent: true,
      style: { text: 'Original DFS forecast', fontSize: 42, fill: '#FF00FF', fontFamily: FONT } }
  ],
  series: [
    { type: 'custom', name: 'Measurement (all points)', xAxisIndex: 0, yAxisIndex: 0,
      data: [[bandUpX[0], bandUpY[0]]], itemStyle: { color: bandColor }, silent: true,
      renderItem: (params, api) => {
        const pts = [];
        for (let i = 0; i < bandUpX.length; i++) pts.push(api.coord([bandUpX[i], bandUpY[i]]));
        for (let i = bandLoX.length - 1; i >= 0; i--) pts.push(api.coord([bandLoX[i], bandLoY[i]]));
        return { type: 'polygon', shape: { points: pts }, style: { fill: bandColor } };
      } },
    lineSeries('Measurement (mean value)', meanX, meanY, '#D95319', 1.5),
    lineSeries('DFS forecast (+)', dfsX, dfsPlus, '#FF00FF', 2.5),
    lineSeries('DFS forecast (-)', dfsX, dfsMinus, '#FF00FF', 2.5, { lineStyle: { color: '#FF00FF', width: 2.5, type: [20, 11] } }),
    lineSeries('DFSM forecast', dfsmX, dfsmY, '#000000', 2, { smooth: 0.4 }),
    lineSeries('AFIS forecast', afisX, afisY, '#77AC30', 2, { smooth: 0.4 }),
    lineSeries('Electromagnetic simulation', emX, emY, '#0072BD', 2, { smooth: 0.4 })
  ]
};
chart.setOption(option);
</script>
</body></html>
